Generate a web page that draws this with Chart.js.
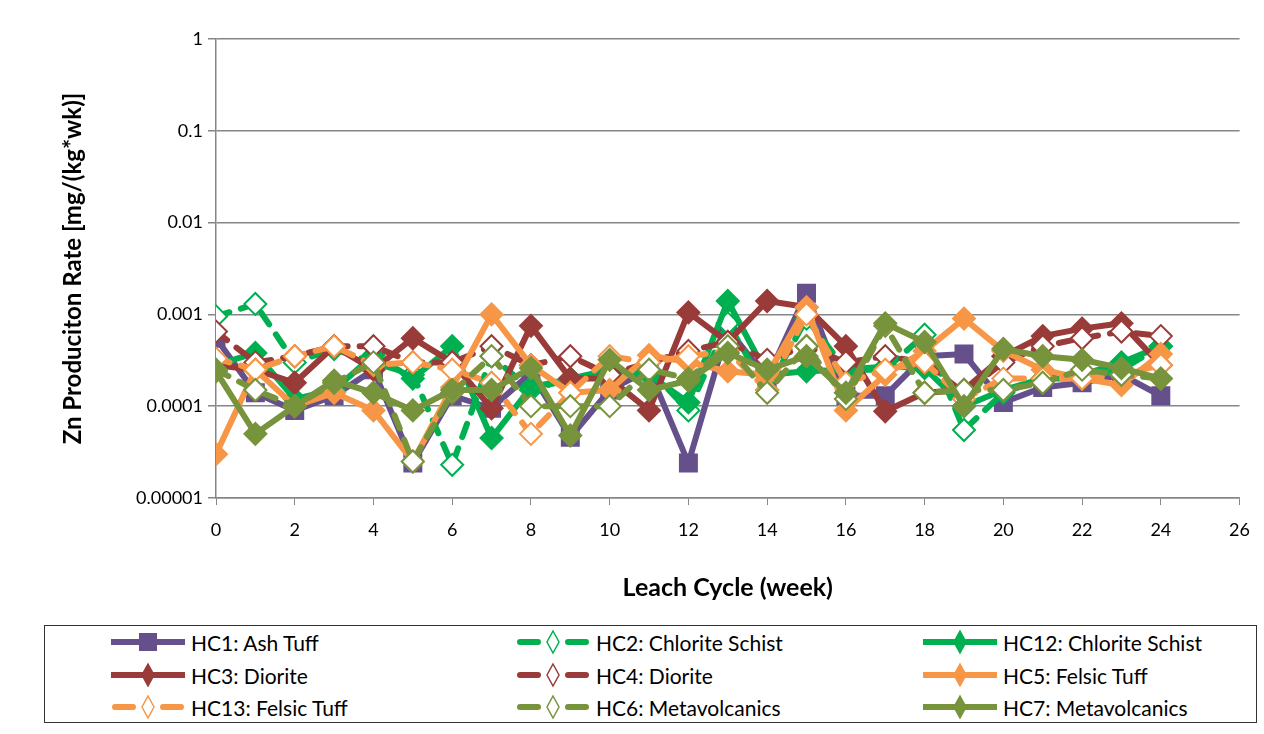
<!DOCTYPE html>
<html>
<head>
<meta charset="utf-8">
<script src="https://cdn.jsdelivr.net/npm/chart.js@4"></script>
<style>
  body { margin: 0; background: #fff; font-family: Lato, sans-serif; }
  #wrap { position: relative; width: 1264px; height: 734px; }
  #chartBox { position: absolute; left: 0; top: 0; width: 1264px; height: 620px; }
  #legend { position: absolute; left: 44px; top: 625px; width: 1213px; height: 98px;
            border: 1.5px solid #333; box-sizing: border-box; }
  .item { position: absolute; height: 30px; display: flex; align-items: center;
          font-size: 21px; color: #000; white-space: nowrap; }
  .item svg { margin-right: 6px; }
</style>
</head>
<body>
<div id="wrap">
  <div id="chartBox"><canvas id="myChart" width="1264" height="620"></canvas></div>
  <div id="legend"></div>
</div>
<script>
// weeks 0..24
const weeks = [0,1,2,3,4,5,6,7,8,9,10,11,12,13,14,15,16,17,18,19,20,21,22,23,24];
const yTicks = [0.00001, 0.0001, 0.001, 0.01, 0.1, 1];

const hc1 = [0.00055,0.00014,0.00009,0.00013,0.00025,0.000024,0.00013,0.000095,0.00023,0.000046,0.00015,0.00025,0.000024,0.0007,0.0002,0.0017,0.00013,0.00013,0.00035,0.00037,0.00011,0.00016,0.00018,0.00022,0.00013];
const hc2 = [0.00095,0.0013,0.0003,0.00042,0.0003,0.00022,0.000023,0.00035,0.00015,0.0002,0.00022,0.00025,0.00009,0.0008,0.00015,0.0009,0.00025,0.00025,0.0006,0.000055,0.00014,0.0002,0.0002,0.00025,0.00045];
const hc12 = [0.00028,0.00038,0.00012,0.00015,0.00036,0.0002,0.00045,0.000045,0.00016,0.0002,0.00025,0.00022,0.00011,0.0014,0.00022,0.00024,0.00025,0.00027,0.00026,0.0001,0.00015,0.0002,0.00022,0.0003,0.00045];
const hc3 = [0.00028,0.00025,0.00018,0.00045,0.00025,0.00055,0.0003,0.000095,0.00075,0.0002,0.0002,0.00009,0.00105,0.0005,0.0014,0.0012,0.00045,0.000088,0.00014,0.00015,0.00035,0.00058,0.0007,0.0008,0.00028];
const hc4 = [0.00065,0.0003,0.00035,0.00045,0.00045,0.0003,0.0003,0.00045,0.00028,0.00035,0.00022,0.0003,0.0004,0.0005,0.00032,0.00045,0.0003,0.00035,0.0003,0.00014,0.0003,0.00045,0.00055,0.00065,0.00058];
const hc5 = [0.00003,0.00025,0.0001,0.00014,0.00009,0.000025,0.00016,0.001,0.00028,0.00014,0.00015,0.00036,0.0003,0.00024,0.00022,0.0012,0.00009,0.00022,0.0004,0.0009,0.0004,0.00025,0.0002,0.00017,0.00037];
const hc13 = [0.00033,0.00025,0.00035,0.00045,0.00028,0.0003,0.00025,0.00018,0.00005,0.00014,0.00035,0.0003,0.00035,0.0004,0.00015,0.001,0.00018,0.00025,0.0003,0.00012,0.0002,0.0002,0.0002,0.00022,0.00028];
const hc6 = [0.00025,0.00015,0.0001,0.00018,0.0003,0.000025,0.00014,0.00035,0.0001,0.0001,0.0001,0.00025,0.0002,0.00045,0.00014,0.00045,0.00012,0.00075,0.00014,0.00015,0.00015,0.00018,0.00025,0.00022,0.0002];
const hc7 = [0.00024,0.00005,0.0001,0.00019,0.00014,0.00009,0.00015,0.00015,0.00026,0.000048,0.00032,0.00015,0.00019,0.00038,0.00025,0.00035,0.00014,0.0008,0.0005,0.0001,0.00042,0.00035,0.00032,0.00026,0.0002];

const purple = '#65508b', green = '#00b050', red = '#993b39', orange = '#f79646', olive = '#77933c';

// name, values, colour, dashed/hollow, marker
const series = [
  ['HC1: Ash Tuff', hc1, purple, false, 'rect'],
  ['HC2: Chlorite Schist', hc2, green, true, 'rectRot'],
  ['HC12: Chlorite Schist', hc12, green, false, 'rectRot'],
  ['HC3: Diorite', hc3, red, false, 'rectRot'],
  ['HC4: Diorite', hc4, red, true, 'rectRot'],
  ['HC5: Felsic Tuff', hc5, orange, false, 'rectRot'],
  ['HC13: Felsic Tuff', hc13, orange, true, 'rectRot'],
  ['HC6: Metavolcanics', hc6, olive, true, 'rectRot'],
  ['HC7: Metavolcanics', hc7, olive, false, 'rectRot']
];

const datasets = series.map((s, i) => ({
  label: s[0],
  data: weeks.map((w, j) => ({x: w, y: s[1][j]})),
  borderColor: s[2],
  backgroundColor: s[2],
  borderWidth: 6,
  borderDash: s[3] ? [14, 12] : [],
  borderCapStyle: s[3] ? 'round' : 'butt',
  pointStyle: s[4],
  pointRadius: s[4] == 'rect' ? 12 : 11,
  pointBackgroundColor: s[3] ? '#fff' : s[2],
  pointBorderColor: s[2],
  pointBorderWidth: 2,
  tension: 0,
  order: series.length - i
}));

let ctx = document.getElementById('myChart').getContext('2d');
let myChart = new Chart(ctx, {
  type: 'line',
  data: { datasets: datasets },
  options: {
    responsive: false,
    animation: false,
    maintainAspectRatio: false,
    layout: { padding: { left: 55, top: 39, right: 24, bottom: 13 } },
    plugins: { legend: { display: false }, tooltip: { enabled: false } },
    scales: {
      x: {
        type: 'linear', min: 0, max: 26,
        ticks: { stepSize: 2, color: '#000', padding: 14, font: { family: 'Lato', size: 18 } },
        grid: { drawOnChartArea: false, drawTicks: true, tickLength: 7, color: '#868686' },
        border: { color: '#868686', width: 1.5 },
        title: { display: true, text: 'Leach Cycle (week)', color: '#000',
                 font: { family: 'Lato', size: 25, weight: 'bold' } },
        afterFit: s => { s.height = 109; }
      },
      y: {
        type: 'logarithmic', min: 0.00001, max: 1,
        afterBuildTicks: s => { s.ticks = yTicks.map(v => ({value: v})); },
        ticks: { color: '#000', padding: 5, font: { family: 'Lato', size: 18 },
                 callback: v => v.toString() },
        grid: { color: '#868686', lineWidth: 1.5, tickLength: 8 },
        border: { color: '#868686', width: 1.5 },
        title: { display: true, text: 'Zn Produciton Rate [mg/(kg*wk)]', color: '#000',
                 font: { family: 'Lato', size: 24, weight: 'bold' } },
        afterFit: s => { s.width = 161; }
      }
    }
  }
});

// legend, 3 columns x 3 rows
const legend = document.getElementById('legend');
const colX = [66, 471, 878];
const rowY = [1, 34, 66];
series.forEach((s, i) => {
  const col = i % 3, row = Math.floor(i / 3);
  const d = document.createElement('div');
  d.className = 'item';
  d.style.left = colX[col] + 'px';
  d.style.top = rowY[row] + 'px';
  const c = s[2];
  let line = s[3]
    ? `<line x1="4" y1="15" x2="70" y2="15" stroke="${c}" stroke-width="6" stroke-linecap="round" stroke-dasharray="18 30"/>`
    : `<line x1="0" y1="15" x2="74" y2="15" stroke="${c}" stroke-width="6"/>`;
  let mark;
  if (s[4] == 'rect') mark = `<rect x="28" y="6" width="18" height="18" fill="${c}"/>`;
  else mark = `<polygon points="37,4 43,15 37,26 31,15" fill="${s[3] ? '#fff' : c}" stroke="${c}" stroke-width="1.5"/>`;
  d.innerHTML = `<svg width="74" height="30">${line}${mark}</svg><span>${s[0]}</span>`;
  legend.appendChild(d);
});
</script>
</body>
</html>
